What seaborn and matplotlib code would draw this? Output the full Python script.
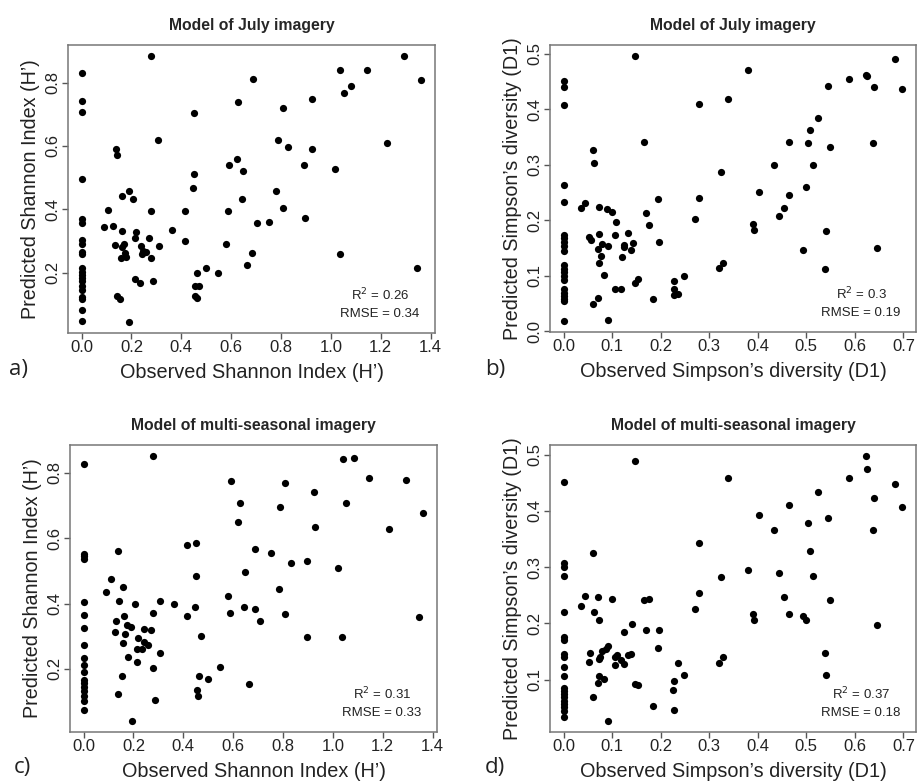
import numpy as np
import pandas as pd
import matplotlib
matplotlib.use("Agg")
import matplotlib.pyplot as plt
from matplotlib.ticker import FormatStrFormatter
import seaborn as sns

# ---- data ----
# a) July imagery, Shannon index
shannon_july_obs = [
    0.0, 0.0, 0.0, 0.0, 0.0, 0.0, 0.0, 0.0, 0.0, 0.0, 0.0,
    0.0, 0.0, 0.0, 0.0, 0.0, 0.0, 0.0, 0.0, 0.0, 0.0,
    0.28, 0.305, 0.139, 0.144, 0.189, 0.164, 0.207, 0.107, 0.28, 0.091,
    0.124, 0.164, 0.217, 0.132, 0.161, 0.169, 0.213, 0.271, 0.309, 0.237,
    0.247, 0.257, 0.243, 0.173, 0.179, 0.159, 0.28, 0.215, 0.235, 0.287,
    0.141, 0.156, 0.192, 0.363, 0.413, 0.416, 0.451, 0.451, 0.445, 0.463,
    0.501, 0.548, 0.456, 0.472, 0.456, 0.464, 0.579, 0.589, 0.591, 0.624,
    0.647, 0.628, 0.645, 0.665, 0.685, 0.687, 0.705, 0.752, 0.781, 0.789,
    0.808, 0.809, 0.829, 0.893, 0.897, 0.925, 0.924, 1.017, 1.035, 1.037,
    1.053, 1.079, 1.143, 1.223, 1.293, 1.363, 1.344,
]
shannon_july_pred = [
    0.831, 0.741, 0.707, 0.496, 0.370, 0.356, 0.303, 0.290, 0.264, 0.258, 0.214,
    0.203, 0.193, 0.182, 0.172, 0.158, 0.145, 0.124, 0.117, 0.082, 0.047,
    0.885, 0.619, 0.591, 0.571, 0.458, 0.442, 0.433, 0.399, 0.396, 0.343,
    0.347, 0.331, 0.328, 0.286, 0.282, 0.291, 0.308, 0.308, 0.284, 0.284,
    0.269, 0.265, 0.259, 0.261, 0.249, 0.245, 0.246, 0.181, 0.167, 0.172,
    0.125, 0.117, 0.043, 0.335, 0.396, 0.299, 0.705, 0.511, 0.466, 0.200,
    0.214, 0.200, 0.158, 0.159, 0.127, 0.121, 0.291, 0.394, 0.541, 0.560,
    0.522, 0.740, 0.433, 0.225, 0.261, 0.812, 0.357, 0.359, 0.459, 0.618,
    0.721, 0.405, 0.598, 0.541, 0.373, 0.748, 0.589, 0.527, 0.260, 0.839,
    0.768, 0.788, 0.839, 0.610, 0.883, 0.808, 0.215,
]

# b) July imagery, Simpson's diversity
simpson_july_obs = [
    0.0, 0.0, 0.0, 0.0, 0.0, 0.0, 0.0, 0.0, 0.0, 0.0, 0.0,
    0.0, 0.0, 0.0, 0.0, 0.0, 0.0, 0.0, 0.0, 0.0, 0.0,
    0.148, 0.166, 0.061, 0.063, 0.036, 0.044, 0.074, 0.089, 0.100, 0.109,
    0.053, 0.057, 0.074, 0.080, 0.091, 0.071, 0.077, 0.072, 0.083, 0.105,
    0.124, 0.125, 0.133, 0.143, 0.138, 0.121, 0.105, 0.118, 0.148, 0.154,
    0.169, 0.176, 0.195, 0.197, 0.184, 0.070, 0.061, 0.091, 0.227, 0.227,
    0.227, 0.235, 0.249, 0.270, 0.278, 0.279, 0.324, 0.321, 0.329, 0.339,
    0.379, 0.391, 0.392, 0.402, 0.433, 0.443, 0.454, 0.465, 0.464, 0.493,
    0.499, 0.503, 0.508, 0.514, 0.524, 0.538, 0.540, 0.545, 0.549, 0.587,
    0.622, 0.626, 0.639, 0.637, 0.645, 0.682, 0.698,
]
simpson_july_pred = [
    0.452, 0.441, 0.408, 0.264, 0.233, 0.173, 0.168, 0.161, 0.154, 0.144, 0.119,
    0.113, 0.107, 0.100, 0.092, 0.076, 0.069, 0.063, 0.058, 0.054, 0.018,
    0.497, 0.342, 0.326, 0.303, 0.222, 0.231, 0.225, 0.221, 0.215, 0.198,
    0.170, 0.164, 0.176, 0.157, 0.154, 0.149, 0.135, 0.123, 0.101, 0.174,
    0.156, 0.152, 0.177, 0.160, 0.147, 0.134, 0.077, 0.077, 0.087, 0.094,
    0.213, 0.192, 0.238, 0.161, 0.058, 0.060, 0.049, 0.021, 0.090, 0.077,
    0.066, 0.067, 0.100, 0.202, 0.410, 0.241, 0.287, 0.115, 0.123, 0.418,
    0.471, 0.194, 0.182, 0.252, 0.300, 0.208, 0.222, 0.341, 0.245, 0.146,
    0.261, 0.339, 0.363, 0.299, 0.384, 0.112, 0.180, 0.442, 0.333, 0.455,
    0.462, 0.460, 0.440, 0.339, 0.150, 0.491, 0.437,
]

# c) multi-seasonal imagery, Shannon index
shannon_multi_obs = [
    0.0, 0.0, 0.0, 0.0, 0.0, 0.0, 0.0, 0.0, 0.0,
    0.0, 0.0, 0.0, 0.0, 0.0, 0.0, 0.0, 0.0, 0.0,
    0.280, 0.137, 0.108, 0.091, 0.159, 0.143, 0.207, 0.305, 0.280, 0.363,
    0.164, 0.131, 0.125, 0.168, 0.173, 0.189, 0.244, 0.271, 0.217, 0.157,
    0.243, 0.257, 0.215, 0.233, 0.308, 0.180, 0.215, 0.279, 0.155, 0.139,
    0.288, 0.193, 0.415, 0.451, 0.451, 0.447, 0.415, 0.471, 0.464, 0.501,
    0.548, 0.455, 0.460, 0.580, 0.587, 0.591, 0.621, 0.628, 0.647, 0.645,
    0.687, 0.687, 0.707, 0.665, 0.753, 0.784, 0.789, 0.809, 0.809, 0.831,
    0.895, 0.897, 0.925, 0.928, 1.019, 1.035, 1.039, 1.083, 1.053, 1.144,
    1.224, 1.293, 1.363, 1.345,
]
shannon_multi_pred = [
    0.828, 0.553, 0.546, 0.535, 0.405, 0.364, 0.326, 0.272, 0.234,
    0.213, 0.189, 0.166, 0.156, 0.144, 0.131, 0.118, 0.100, 0.073,
    0.853, 0.562, 0.475, 0.436, 0.450, 0.409, 0.400, 0.407, 0.372, 0.398,
    0.363, 0.346, 0.312, 0.306, 0.335, 0.328, 0.323, 0.320, 0.295, 0.279,
    0.282, 0.272, 0.260, 0.261, 0.248, 0.236, 0.222, 0.204, 0.179, 0.122,
    0.103, 0.039, 0.578, 0.584, 0.484, 0.388, 0.362, 0.299, 0.179, 0.169,
    0.207, 0.135, 0.118, 0.423, 0.371, 0.774, 0.651, 0.708, 0.497, 0.388,
    0.568, 0.384, 0.345, 0.155, 0.556, 0.445, 0.696, 0.769, 0.369, 0.525,
    0.531, 0.296, 0.742, 0.634, 0.510, 0.296, 0.843, 0.846, 0.707, 0.784,
    0.627, 0.779, 0.676, 0.358,
]

# d) multi-seasonal imagery, Simpson's diversity
simpson_multi_obs = [
    0.0, 0.0, 0.0, 0.0, 0.0, 0.0, 0.0, 0.0, 0.0, 0.0,
    0.0, 0.0, 0.0, 0.0, 0.0, 0.0, 0.0, 0.0, 0.0, 0.0,
    0.148, 0.060, 0.036, 0.044, 0.071, 0.062, 0.074, 0.100, 0.142, 0.165,
    0.176, 0.169, 0.196, 0.125, 0.195, 0.092, 0.087, 0.079, 0.075, 0.074,
    0.055, 0.053, 0.106, 0.110, 0.118, 0.125, 0.105, 0.133, 0.139, 0.072,
    0.070, 0.083, 0.061, 0.092, 0.148, 0.154, 0.184, 0.227, 0.226, 0.227,
    0.235, 0.249, 0.270, 0.278, 0.279, 0.324, 0.321, 0.329, 0.339, 0.379,
    0.391, 0.392, 0.402, 0.433, 0.443, 0.454, 0.465, 0.464, 0.493, 0.499,
    0.503, 0.508, 0.514, 0.524, 0.538, 0.540, 0.545, 0.549, 0.587, 0.622,
    0.626, 0.639, 0.637, 0.645, 0.682, 0.698,
]
simpson_multi_pred = [
    0.451, 0.308, 0.301, 0.284, 0.220, 0.176, 0.170, 0.145, 0.140, 0.122,
    0.107, 0.086, 0.080, 0.075, 0.069, 0.063, 0.057, 0.051, 0.045, 0.033,
    0.489, 0.325, 0.231, 0.248, 0.247, 0.221, 0.206, 0.244, 0.199, 0.241,
    0.244, 0.189, 0.189, 0.185, 0.156, 0.160, 0.155, 0.151, 0.141, 0.137,
    0.148, 0.132, 0.141, 0.143, 0.135, 0.128, 0.126, 0.143, 0.145, 0.106,
    0.095, 0.102, 0.070, 0.026, 0.092, 0.091, 0.053, 0.098, 0.082, 0.047,
    0.130, 0.109, 0.226, 0.342, 0.254, 0.282, 0.129, 0.140, 0.459, 0.295,
    0.216, 0.206, 0.392, 0.366, 0.289, 0.247, 0.410, 0.216, 0.213, 0.206,
    0.379, 0.329, 0.284, 0.434, 0.148, 0.108, 0.388, 0.242, 0.458, 0.498,
    0.475, 0.422, 0.366, 0.198, 0.448, 0.407,
]

titles = ["Model of July imagery", "Model of July imagery",
          "Model of multi-seasonal imagery", "Model of multi-seasonal imagery"]
xlabels = ["Observed Shannon Index (H\u2019)", "Observed Simpson\u2019s diversity (D1)"] * 2
ylabels = ["Predicted Shannon Index (H\u2019)", "Predicted Simpson\u2019s diversity (D1)"] * 2
r2_values = ["0.26", "0.3", "0.31", "0.37"]
rmse_values = ["0.34", "0.19", "0.33", "0.18"]
panel_letters = ["a)", "b)", "c)", "d)"]

sns.set_theme(style="white")
plt.rcParams["font.family"] = ["Liberation Sans", "DejaVu Sans"]

W, H = 917, 781
fig = plt.figure(figsize=(W / 100, H / 100), dpi=100)

# axes boxes in pixels: left, top, right, bottom
boxes = [(68, 45, 435, 333), (550, 45, 916, 332),
         (70, 445, 437, 732), (550, 445, 916, 732)]
panels = [
    (shannon_july_obs, shannon_july_pred),
    (simpson_july_obs, simpson_july_pred),
    (shannon_multi_obs, shannon_multi_pred),
    (simpson_multi_obs, simpson_multi_pred),
]
xticks_sh = np.arange(0, 1.41, 0.2)
xticks_si = np.arange(0, 0.71, 0.1)

for i, ((obs, pred), (l, t, r, b)) in enumerate(zip(panels, boxes)):
    ax = fig.add_axes([l / W, 1 - b / H, (r - l) / W, (b - t) / H])
    df = pd.DataFrame({"obs": obs, "pred": pred})
    sns.scatterplot(data=df, x="obs", y="pred", ax=ax, color="black",
                    s=27, linewidth=0)

    # R style 4% padding around the data
    xr = df.obs.max() - df.obs.min()
    yr = df.pred.max() - df.pred.min()
    ax.set_xlim(df.obs.min() - 0.04 * xr, df.obs.max() + 0.04 * xr)
    ax.set_ylim(df.pred.min() - 0.04 * yr, df.pred.max() + 0.04 * yr)

    if i % 2 == 0:
        ax.set_xticks(xticks_sh)
        ax.set_yticks([0.2, 0.4, 0.6, 0.8])
    else:
        ax.set_xticks(xticks_si)
        ax.set_yticks([t for t in np.arange(0, 0.51, 0.1) if t >= ax.get_ylim()[0]])
    ax.xaxis.set_major_formatter(FormatStrFormatter("%.1f"))
    ax.yaxis.set_major_formatter(FormatStrFormatter("%.1f"))
    ax.tick_params(axis="both", which="major", direction="out", length=4.5,
                   width=1, color="#555555", labelsize=12,
                   bottom=True, left=True, labelcolor="#222222")
    ax.tick_params(axis="x", pad=0.5)
    ax.tick_params(axis="y", pad=1)
    for lab in ax.get_yticklabels():
        lab.set_rotation(90)
        lab.set_va("center")
    for sp in ax.spines.values():
        sp.set_visible(True)
        sp.set_color("#777777")
        sp.set_linewidth(1.1)

    ax.set_xlabel(xlabels[i], fontsize=14.3, labelpad=6, color="#222222")
    ax.set_ylabel(ylabels[i], fontsize=14.2, labelpad=4, color="#222222")
    ax.set_title(titles[i], fontsize=11.3, fontweight="bold", pad=11)

    ax.text(0.85, 0.133, "R$^2$ = " + r2_values[i], transform=ax.transAxes,
            ha="center", va="center", fontsize=9.5, color="#222222")
    ax.text(0.85, 0.065, "RMSE = " + rmse_values[i], transform=ax.transAxes,
            ha="center", va="center", fontsize=9.5, color="#222222")

# panel letters
letter_pos = [(18, 370), (495, 370), (22, 767), (495, 767)]
for txt, (px, py) in zip(panel_letters, letter_pos):
    fig.text(px / W, 1 - py / H, txt, fontsize=16, family="Open Sans",
             ha="center", va="center", color="#222222")

fig.savefig("out.png", dpi=100)
